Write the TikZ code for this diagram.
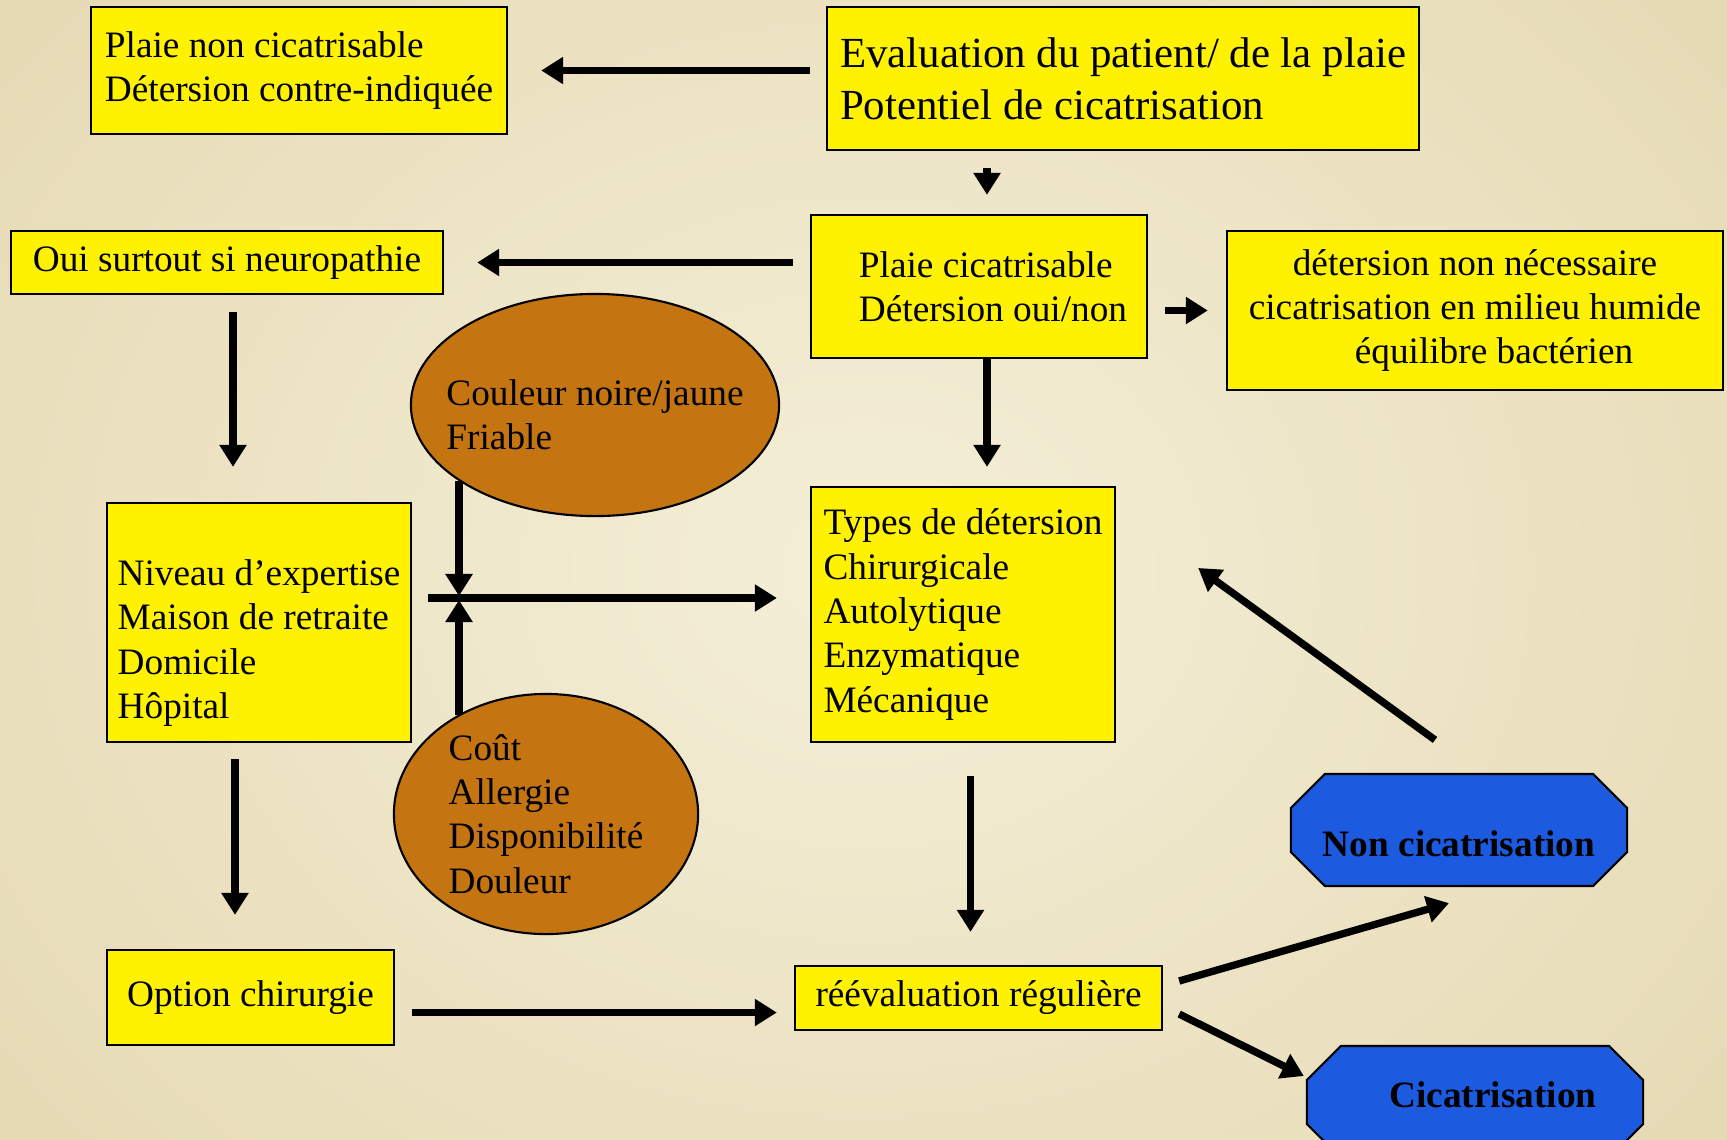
\documentclass[tikz,border=0pt]{standalone}
\usepackage{fontspec}
\setmainfont{Liberation Serif}
\usepackage{xcolor}
\usepackage{tikz}
\usetikzlibrary{shapes,arrows,positioning,calc,arrows.meta}

\definecolor{parchment}{HTML}{F4EFD8}
\definecolor{parchedge}{HTML}{E7DBB6}
\definecolor{ochre}{HTML}{C47512}
\definecolor{royal}{HTML}{1C5AE0}

\tikzset{
    ybox/.style={draw, rectangle, fill=yellow, line width=0.6pt, inner sep=0pt},
    oval/.style={draw, ellipse, fill=ochre, line width=0.6pt, inner sep=-0.3cm},
    endbox/.style={draw, chamfered rectangle, chamfered rectangle xsep=0.34cm,
        chamfered rectangle ysep=0.34cm, fill=royal, line width=0.6pt, inner sep=0pt,
        font=\fontsize{10.6}{12.6}\selectfont\bfseries},
    arr/.style={line width=2.1pt, -{Triangle[length=0.22cm,width=0.26cm]}}
}

\begin{document}
\begin{tikzpicture}[x=0.01cm, y=-0.01cm, font=\fontsize{10.6}{12.6}\selectfont]
    \clip (0,0) rectangle (1727,1139);
    \useasboundingbox (0,0) rectangle (1727,1139);
    \shade [inner color=parchment, outer color=parchedge] (-200,-300) rectangle (1927,1439);

    % boxes
    \node [ybox, minimum width=4.16cm, minimum height=1.27cm, align=left] (nonci) at (299,70.5)
        {Plaie non cicatrisable\\Détersion contre-indiquée};
    \node [ybox, minimum width=5.92cm, minimum height=1.43cm, align=left,
        font=\fontsize{12.2}{14.8}\selectfont] (eval) at (1123,78.5)
        {Evaluation du patient/ de la plaie\\Potentiel de cicatrisation};
    \node [ybox, minimum width=3.36cm, minimum height=1.43cm, align=left] (plaieci) at (979,286.5)
        {\hspace*{0.28cm}Plaie cicatrisable\\\hspace*{0.28cm}Détersion oui/non};
    \node [ybox, minimum width=4.32cm, minimum height=0.63cm] (oui) at (227,262.5)
        {Oui surtout si neuropathie};
    \node [ybox, minimum width=4.96cm, minimum height=1.59cm, align=center] (nonnec) at (1475,310.5)
        {détersion non nécessaire\\cicatrisation en milieu humide\\\hspace*{0.38cm}équilibre bactérien};
    \node [ybox, minimum width=3.04cm, minimum height=2.55cm, align=left] (types) at (963,614.5)
        {Types de détersion\\Chirurgicale\\Autolytique\\Enzymatique\\Mécanique};
    \node [ybox, minimum width=3.04cm, minimum height=2.39cm, align=left] (niveau) at (259,622.5)
        {\rule{0pt}{0.67cm}Niveau d’expertise\\Maison de retraite\\Domicile\\Hôpital};
    \node [ybox, minimum width=2.87cm, minimum height=0.95cm] (option) at (250.5,997.5)
        {Option chirurgie};
    \node [ybox, minimum width=3.67cm, minimum height=0.64cm] (reeval) at (978.5,998)
        {réévaluation régulière};

    % criteria
    \node [oval, minimum width=3.68cm, minimum height=2.22cm, align=left] (couleur) at (595,405)
        {\rule{0pt}{0.45cm}Couleur noire/jaune\\Friable};
    \node [oval, minimum width=3.04cm, minimum height=2.40cm, align=left] (cout) at (546,814)
        {Coût\\Allergie\\Disponibilité\\Douleur};

    % outcomes
    \node [endbox, minimum width=3.36cm, minimum height=1.12cm] (nonheal) at (1459,830)
        {\raisebox{-0.26cm}[0pt][0pt]{Non cicatrisation}};
    \node [endbox, minimum width=3.36cm, minimum height=1.12cm] (heal) at (1475,1102)
        {\hspace*{0.36cm}\raisebox{-0.05cm}[0pt][0pt]{Cicatrisation}};

    \coordinate (junc) at (459,598);

    % arrows
    \draw [arr, shorten <=0.16cm, shorten >=0.33cm] (eval.west |- nonci.east) -- (nonci.east);
    \draw [arr, shorten <=0.17cm, shorten >=0.19cm] ([xshift=0.08cm]plaieci.north |- eval.south) -- ([xshift=0.08cm]plaieci.north);
    \draw [arr, shorten <=0.17cm, shorten >=0.33cm] (plaieci.west |- oui.east) -- (oui.east);
    \draw [arr, shorten <=0.17cm, shorten >=0.18cm] (plaieci.east |- nonnec.west) -- (nonnec.west);
    \draw [arr, shorten >=0.19cm] ([xshift=0.08cm]plaieci.south) -- ([xshift=0.08cm]plaieci.south |- types.north);
    \draw [arr, shorten <=0.17cm, shorten >=0.35cm] ([xshift=0.06cm]oui.south) -- ([xshift=0.06cm]oui.south |- niveau.north);
    \draw [arr, shorten <=0.16cm, shorten >=0.34cm] ([xshift=-0.155cm]option.north |- niveau.south) -- ([xshift=-0.155cm]option.north);
    \draw [arr, shorten <=0.16cm, shorten >=0.33cm] (niveau.east |- junc) -- (junc -| types.west);
    \draw [arr, shorten >=0.02cm] (junc |- couleur.209) -- (junc);
    \draw [arr, shorten >=0.02cm] (junc |- cout.132) -- (junc);
    \draw [arr, shorten <=0.17cm, shorten >=0.17cm] ([yshift=-0.15cm]option.east) -- ([yshift=-0.15cm]option.east -| reeval.west);
    \draw [arr, shorten <=0.33cm, shorten >=0.33cm] ([xshift=-0.08cm]reeval.north |- types.south) -- ([xshift=-0.08cm]reeval.north);
    \draw [arr] ([shift={(0.16cm,0.17cm)}]reeval.east) -- ([shift={(-0.1cm,-0.16cm)}]nonheal.south);
    \draw [arr] ([shift={(0.16cm,-0.16cm)}]reeval.east) -- ([shift={(-0.02cm,0.26cm)}]heal.west);
    \draw [arr] ([shift={(-0.24cm,0.33cm)}]nonheal.north) -- ([shift={(0.82cm,0.465cm)}]types.east);
\end{tikzpicture}
\end{document}
